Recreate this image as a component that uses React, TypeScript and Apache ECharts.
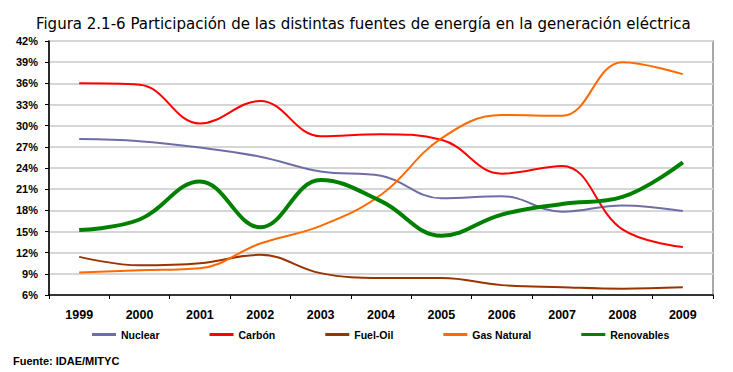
import React, { useEffect, useRef } from "react";
import * as echarts from "echarts";

const years = ["1999", "2000", "2001", "2002", "2003", "2004", "2005", "2006", "2007", "2008", "2009"];
const nuclear = [28.1, 27.8, 26.9, 25.6, 23.5, 22.9, 19.7, 20.0, 17.8, 18.7, 17.9];
const carbon = [36.0, 35.8, 30.3, 33.5, 28.5, 28.8, 28.0, 23.2, 24.3, 15.3, 12.8];
const fuelOil = [11.4, 10.2, 10.5, 11.7, 9.1, 8.4, 8.4, 7.4, 7.1, 6.9, 7.1];
const gasNatural = [9.2, 9.5, 9.8, 13.3, 15.8, 20.2, 28.2, 31.5, 31.4, 39.0, 37.3];
const renovables = [15.2, 16.7, 22.1, 15.6, 22.3, 19.3, 14.4, 17.4, 18.9, 19.9, 24.8];

const seriesNames = ["Nuclear", "Carbón", "Fuel-Oil", "Gas Natural", "Renovables"];
const seriesData = [nuclear, carbon, fuelOil, gasNatural, renovables];
const seriesColors = ["#6e6ea6", "#ff0000", "#993300", "#ff6a00", "#008000"];
const seriesWidths = [2, 2, 2, 2, 4];

const title = "Figura 2.1-6 Participación de las distintas fuentes de energía en la generación eléctrica";
const source = "Fuente: IDAE/MITYC";

const FONT = "Liberation Sans";

export default function App() {
  const ref = useRef<HTMLDivElement>(null);
  useEffect(() => {
    if (!ref.current) return;
    const chart = echarts.init(ref.current, null, { renderer: "svg" });
    chart.setOption({
      animation: false,
      backgroundColor: "#ffffff",
      textStyle: { fontFamily: FONT },
      title: {
        text: title,
        left: 36,
        top: 14,
        padding: 0,
        textStyle: { fontFamily: "DejaVu Sans Condensed", fontSize: 16.7, fontWeight: "normal", color: "#000" },
      },
      graphic: [
        {
          type: "text",
          left: 13,
          top: 355,
          style: { text: source, fontFamily: FONT, fontSize: 11, fontWeight: "bold", fill: "#000" },
        },
      ],
      legend: {
        left: 92,
        top: 329,
        padding: 0,
        itemGap: 50,
        itemWidth: 24,
        itemHeight: 3,
        icon: "rect",
        data: seriesNames,
        textStyle: { fontFamily: FONT, fontSize: 10.5, fontWeight: "bold", color: "#000" },
      },
      grid: {
        left: 49,
        right: 20,
        top: 41,
        bottom: 77,
        show: true,
        borderColor: "#8c8c8c",
        borderWidth: 1.5,
      },
      xAxis: {
        type: "category",
        data: years,
        boundaryGap: true,
        axisLine: { lineStyle: { color: "#000", width: 1.5 } },
        axisTick: { show: true, length: 4, interval: 0, lineStyle: { color: "#000" } },
        axisLabel: { margin: 13, fontFamily: FONT, fontSize: 12.5, fontWeight: "bold", color: "#000" },
      },
      yAxis: {
        type: "value",
        min: 6,
        max: 42,
        interval: 3,
        axisLine: { show: true, lineStyle: { color: "#000", width: 1.5 } },
        axisTick: { show: true, length: 4, lineStyle: { color: "#000" } },
        axisLabel: { margin: 11, formatter: "{value}%", fontFamily: FONT, fontSize: 11, fontWeight: "bold", color: "#000" },
        splitLine: { show: true, lineStyle: { color: "#d6d6d6", width: 2 } },
      },
      series: seriesNames.map((name, i) => ({
        name,
        type: "line",
        data: seriesData[i],
        smooth: 0.4,
        showSymbol: false,
        symbol: "none",
        color: seriesColors[i],
        lineStyle: { color: seriesColors[i], width: seriesWidths[i] },
        z: i === 4 ? 5 : 2,
      })),
    });
    return () => chart.dispose();
  }, []);
  return <div ref={ref} style={{ position: "absolute", left: 0, top: 0, width: 733, height: 372 }} />;
}
